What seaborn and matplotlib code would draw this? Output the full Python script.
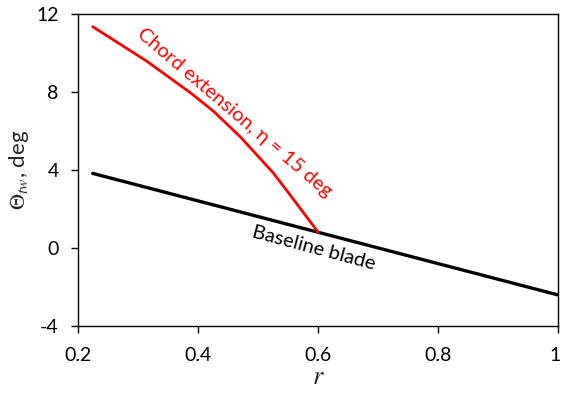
import matplotlib
matplotlib.use("Agg")
import matplotlib.pyplot as plt
import matplotlib.transforms as mtransforms
import seaborn as sns
import pandas as pd

# Data
base_r = [0.224, 1.0]
base_theta = [3.82, -2.42]

chord_r = [0.224, 0.314, 0.386, 0.425, 0.470, 0.525, 0.553, 0.600]
chord_theta = [11.35, 9.58, 7.98, 7.02, 5.70, 3.85, 2.72, 0.80]

x_ticks = [0.2, 0.4, 0.6, 0.8, 1.0]
x_tick_labels = ["0.2", "0.4", "0.6", "0.8", "1"]
y_ticks = [-4, 0, 4, 8, 12]
y_tick_labels = ["-4", "0", "4", "8", "12"]

label_chord = "Chord extension, \u03b7 = 15 deg"
label_base = "Baseline blade"

sns.set_theme(style="ticks")
plt.rcParams["font.family"] = ["Lato", "DejaVu Sans"]
plt.rcParams["mathtext.fontset"] = "stix"

fig = plt.figure(figsize=(5.62, 3.95), dpi=100)
ax = fig.add_axes([0.1393, 0.1754, 0.8536, 0.7892])

df_base = pd.DataFrame({"r": base_r, "theta": base_theta})
df_chord = pd.DataFrame({"r": chord_r, "theta": chord_theta})

sns.lineplot(data=df_base, x="r", y="theta", ax=ax, color="black", lw=2.4, sort=False)
sns.lineplot(data=df_chord, x="r", y="theta", ax=ax, color="#ff0000", lw=2.0, sort=False)

ax.set_xlim(0.2, 1.0)
ax.set_ylim(-4, 12)
ax.set_xticks(x_ticks)
ax.set_xticklabels(x_tick_labels)
ax.set_yticks(y_ticks)
ax.set_yticklabels(y_tick_labels)
ax.tick_params(axis="both", labelsize=14, length=5, width=1, direction="out", colors="black")
ax.tick_params(axis="x", pad=10)
ax.tick_params(axis="y", pad=9)
for s in ax.spines.values():
    s.set_color("black")
    s.set_linewidth(1.0)

# nudge the last x tick label so it stays inside the figure
last = ax.get_xticklabels()[-1]
last.set_transform(last.get_transform() + mtransforms.ScaledTranslation(-3 / 100, 0, fig.dpi_scale_trans))

ax.set_xlabel("$r$", fontsize=19, labelpad=0)
ax.set_ylabel(r"$\Theta_{tw}$, deg", fontsize=16, labelpad=4)

ax.text(0.460, 6.95, label_chord, color="#ff0000", fontsize=14.5, rotation=-40.5,
        ha="center", va="center", rotation_mode="anchor")
ax.text(0.593, 0.0, label_base, color="black", fontsize=14.5, rotation=-15.0,
        ha="center", va="center", rotation_mode="anchor")

fig.savefig("out.png", dpi=100)
